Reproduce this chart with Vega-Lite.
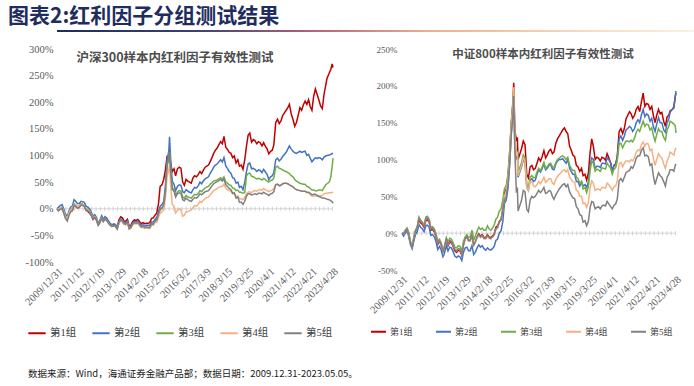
{
  "$schema": "https://vega.github.io/schema/vega-lite/v6.json",
  "background": "white",
  "padding": {"left": 8, "right": 4, "top": 6, "bottom": 4},
  "config": {"view": {"stroke": null}, "font": "Liberation Serif"},
  "title": {"text": "图表2:红利因子分组测试结果", "anchor": "start", "font": "Noto Sans CJK SC", "fontSize": 21, "fontWeight": "bold", "color": "#1F2D5E", "offset": 3},
  "datasets": {
    "hs": [
      {"d":"2009-12-31","1":0,"2":0,"3":0,"4":0,"5":0},
      {"d":"2010-01-28","1":-3,"2":3,"3":-2,"4":-2,"5":-4},
      {"d":"2010-02-26","1":0,"2":6,"3":1,"4":1,"5":-1},
      {"d":"2010-03-31","1":2,"2":8,"3":3,"4":2,"5":1},
      {"d":"2010-04-28","1":-6,"2":0,"3":-5,"4":-5,"5":-8},
      {"d":"2010-05-28","1":-15,"2":-10,"3":-14,"4":-14,"5":-18},
      {"d":"2010-06-30","1":-20,"2":-14,"3":-19,"4":-19,"5":-23},
      {"d":"2010-07-28","1":-10,"2":-5,"3":-9,"4":-9,"5":-13},
      {"d":"2010-08-27","1":-3,"2":3,"3":-2,"4":-2,"5":-6},
      {"d":"2010-09-28","1":-2,"2":5,"3":0,"4":0,"5":-4},
      {"d":"2010-10-28","1":8,"2":17,"3":10,"4":9,"5":7},
      {"d":"2010-11-26","1":5,"2":14,"3":8,"4":7,"5":4},
      {"d":"2010-12-28","1":2,"2":10,"3":4,"4":4,"5":1},
      {"d":"2011-01-28","1":3,"2":10,"3":5,"4":4,"5":2},
      {"d":"2011-02-28","1":9,"2":14,"3":9,"4":8,"5":7},
      {"d":"2011-03-28","1":8,"2":13,"3":8,"4":7,"5":6},
      {"d":"2011-04-28","1":5,"2":12,"3":6,"4":5,"5":5},
      {"d":"2011-05-27","1":-3,"2":5,"3":0,"4":-1,"5":-2},
      {"d":"2011-06-28","1":-5,"2":3,"3":-2,"4":-3,"5":-4},
      {"d":"2011-07-28","1":-8,"2":0,"3":-4,"4":-5,"5":-6},
      {"d":"2011-08-26","1":-12,"2":-6,"3":-9,"4":-10,"5":-11},
      {"d":"2011-09-28","1":-20,"2":-14,"3":-17,"4":-18,"5":-19},
      {"d":"2011-10-28","1":-17,"2":-11,"3":-14,"4":-15,"5":-16},
      {"d":"2011-11-28","1":-21,"2":-16,"3":-19,"4":-20,"5":-21},
      {"d":"2011-12-28","1":-30,"2":-27,"3":-30,"4":-31,"5":-31},
      {"d":"2012-01-19","1":-26,"2":-24,"3":-27,"4":-28,"5":-28},
      {"d":"2012-02-28","1":-16,"2":-13,"3":-17,"4":-18,"5":-18},
      {"d":"2012-03-28","1":-22,"2":-20,"3":-24,"4":-24,"5":-24},
      {"d":"2012-04-27","1":-17,"2":-15,"3":-19,"4":-19,"5":-19},
      {"d":"2012-05-28","1":-20,"2":-18,"3":-22,"4":-22,"5":-22},
      {"d":"2012-06-28","1":-25,"2":-23,"3":-27,"4":-27,"5":-27},
      {"d":"2012-07-27","1":-29,"2":-28,"3":-31,"4":-31,"5":-31},
      {"d":"2012-08-28","1":-31,"2":-30,"3":-33,"4":-33,"5":-33},
      {"d":"2012-09-28","1":-29,"2":-29,"3":-32,"4":-32,"5":-32},
      {"d":"2012-10-26","1":-30,"2":-30,"3":-33,"4":-33,"5":-33},
      {"d":"2012-11-28","1":-35,"2":-35,"3":-38,"4":-38,"5":-38},
      {"d":"2012-12-28","1":-21,"2":-24,"3":-27,"4":-27,"5":-26},
      {"d":"2013-01-29","1":-15,"2":-19,"3":-22,"4":-22,"5":-21},
      {"d":"2013-02-28","1":-17,"2":-21,"3":-24,"4":-24,"5":-23},
      {"d":"2013-03-28","1":-23,"2":-26,"3":-29,"4":-29,"5":-28},
      {"d":"2013-04-26","1":-24,"2":-27,"3":-30,"4":-30,"5":-29},
      {"d":"2013-05-28","1":-20,"2":-23,"3":-26,"4":-26,"5":-25},
      {"d":"2013-06-28","1":-33,"2":-35,"3":-38,"4":-38,"5":-37},
      {"d":"2013-07-26","1":-31,"2":-33,"3":-36,"4":-36,"5":-35},
      {"d":"2013-08-28","1":-24,"2":-27,"3":-30,"4":-30,"5":-29},
      {"d":"2013-09-27","1":-21,"2":-24,"3":-27,"4":-27,"5":-26},
      {"d":"2013-10-28","1":-22,"2":-25,"3":-28,"4":-28,"5":-27},
      {"d":"2013-11-28","1":-20,"2":-24,"3":-27,"4":-27,"5":-26},
      {"d":"2013-12-27","1":-24,"2":-27,"3":-31,"4":-31,"5":-30},
      {"d":"2014-01-28","1":-28,"2":-31,"3":-35,"4":-35,"5":-34},
      {"d":"2014-02-28","1":-26,"2":-30,"3":-34,"4":-35,"5":-33},
      {"d":"2014-03-28","1":-28,"2":-32,"3":-36,"4":-37,"5":-35},
      {"d":"2014-04-28","1":-27,"2":-31,"3":-35,"4":-36,"5":-34},
      {"d":"2014-05-28","1":-27,"2":-31,"3":-35,"4":-37,"5":-35},
      {"d":"2014-06-27","1":-26,"2":-31,"3":-35,"4":-37,"5":-35},
      {"d":"2014-07-28","1":-18,"2":-25,"3":-29,"4":-31,"5":-28},
      {"d":"2014-08-28","1":-17,"2":-25,"3":-29,"4":-31,"5":-29},
      {"d":"2014-09-26","1":-12,"2":-20,"3":-24,"4":-26,"5":-23},
      {"d":"2014-10-28","1":-8,"2":-16,"3":-22,"4":-25,"5":-21},
      {"d":"2014-11-28","1":10,"2":-5,"3":-12,"4":-16,"5":-9},
      {"d":"2014-12-26","1":42,"2":5,"3":-2,"4":-8,"5":0},
      {"d":"2015-01-28","1":45,"2":8,"3":0,"4":-6,"5":2},
      {"d":"2015-02-27","1":55,"2":14,"3":6,"4":-2,"5":7},
      {"d":"2015-03-27","1":72,"2":40,"3":30,"4":18,"5":30},
      {"d":"2015-04-28","1":98,"2":92,"3":80,"4":62,"5":85},
      {"d":"2015-05-28","1":96,"2":108,"3":92,"4":72,"5":95},
      {"d":"2015-06-10","1":104,"2":135,"3":106,"4":82,"5":106},
      {"d":"2015-06-30","1":85,"2":92,"3":72,"4":45,"5":70},
      {"d":"2015-07-28","1":70,"2":52,"3":40,"4":8,"5":36},
      {"d":"2015-08-28","1":75,"2":46,"3":36,"4":5,"5":33},
      {"d":"2015-09-25","1":62,"2":34,"3":25,"4":-8,"5":22},
      {"d":"2015-10-28","1":75,"2":42,"3":32,"4":-3,"5":28},
      {"d":"2015-11-27","1":78,"2":45,"3":34,"4":0,"5":30},
      {"d":"2015-12-28","1":76,"2":44,"3":33,"4":-2,"5":29},
      {"d":"2016-01-28","1":50,"2":32,"3":22,"4":-14,"5":17},
      {"d":"2016-02-26","1":44,"2":30,"3":20,"4":-12,"5":15},
      {"d":"2016-03-28","1":55,"2":36,"3":25,"4":-6,"5":20},
      {"d":"2016-04-28","1":52,"2":33,"3":22,"4":-5,"5":17},
      {"d":"2016-05-27","1":50,"2":31,"3":21,"4":-4,"5":15},
      {"d":"2016-06-28","1":48,"2":30,"3":20,"4":-2,"5":14},
      {"d":"2016-07-28","1":58,"2":36,"3":24,"4":2,"5":18},
      {"d":"2016-08-26","1":62,"2":40,"3":27,"4":6,"5":21},
      {"d":"2016-09-28","1":60,"2":39,"3":26,"4":5,"5":20},
      {"d":"2016-10-28","1":64,"2":43,"3":29,"4":8,"5":23},
      {"d":"2016-11-28","1":70,"2":50,"3":34,"4":14,"5":28},
      {"d":"2016-12-28","1":66,"2":47,"3":32,"4":12,"5":26},
      {"d":"2017-01-26","1":72,"2":52,"3":36,"4":16,"5":29},
      {"d":"2017-02-28","1":78,"2":56,"3":39,"4":19,"5":32},
      {"d":"2017-03-28","1":80,"2":58,"3":41,"4":21,"5":33},
      {"d":"2017-04-28","1":82,"2":60,"3":42,"4":22,"5":34},
      {"d":"2017-05-26","1":88,"2":66,"3":46,"4":26,"5":38},
      {"d":"2017-06-28","1":96,"2":72,"3":49,"4":30,"5":43},
      {"d":"2017-07-28","1":104,"2":78,"3":52,"4":34,"5":47},
      {"d":"2017-08-28","1":110,"2":82,"3":53,"4":36,"5":49},
      {"d":"2017-09-28","1":114,"2":84,"3":54,"4":38,"5":51},
      {"d":"2017-10-27","1":120,"2":88,"3":56,"4":40,"5":53},
      {"d":"2017-11-28","1":126,"2":92,"3":58,"4":42,"5":55},
      {"d":"2017-12-28","1":122,"2":88,"3":56,"4":42,"5":52},
      {"d":"2018-01-26","1":136,"2":96,"3":60,"4":46,"5":56},
      {"d":"2018-02-28","1":115,"2":80,"3":50,"4":38,"5":45},
      {"d":"2018-03-28","1":112,"2":76,"3":48,"4":36,"5":42},
      {"d":"2018-04-27","1":106,"2":70,"3":45,"4":34,"5":38},
      {"d":"2018-05-28","1":104,"2":67,"3":44,"4":33,"5":36},
      {"d":"2018-06-28","1":96,"2":58,"3":39,"4":28,"5":29},
      {"d":"2018-07-27","1":99,"2":57,"3":38,"4":28,"5":30},
      {"d":"2018-08-28","1":86,"2":48,"3":34,"4":23,"5":20},
      {"d":"2018-09-28","1":92,"2":50,"3":35,"4":24,"5":22},
      {"d":"2018-10-26","1":80,"2":40,"3":31,"4":19,"5":12},
      {"d":"2018-11-28","1":82,"2":42,"3":31,"4":19,"5":12},
      {"d":"2018-12-28","1":74,"2":36,"3":29,"4":17,"5":8},
      {"d":"2019-01-28","1":92,"2":50,"3":30,"4":22,"5":14},
      {"d":"2019-02-28","1":118,"2":70,"3":62,"4":28,"5":24},
      {"d":"2019-03-28","1":138,"2":84,"3":66,"4":31,"5":28},
      {"d":"2019-04-26","1":142,"2":86,"3":67,"4":32,"5":28},
      {"d":"2019-05-28","1":125,"2":75,"3":61,"4":30,"5":26},
      {"d":"2019-06-28","1":130,"2":76,"3":60,"4":33,"5":27},
      {"d":"2019-07-26","1":128,"2":74,"3":58,"4":34,"5":28},
      {"d":"2019-08-28","1":122,"2":70,"3":56,"4":33,"5":27},
      {"d":"2019-09-27","1":126,"2":73,"3":57,"4":35,"5":29},
      {"d":"2019-10-28","1":124,"2":72,"3":56,"4":36,"5":29},
      {"d":"2019-11-28","1":118,"2":68,"3":54,"4":35,"5":28},
      {"d":"2019-12-27","1":124,"2":74,"3":57,"4":38,"5":31},
      {"d":"2020-01-23","1":118,"2":70,"3":55,"4":36,"5":29},
      {"d":"2020-02-28","1":112,"2":64,"3":52,"4":34,"5":27},
      {"d":"2020-03-27","1":103,"2":55,"3":50,"4":32,"5":25},
      {"d":"2020-04-28","1":108,"2":60,"3":53,"4":34,"5":28},
      {"d":"2020-05-28","1":110,"2":62,"3":54,"4":35,"5":29},
      {"d":"2020-06-24","1":120,"2":68,"3":58,"4":38,"5":32},
      {"d":"2020-07-28","1":162,"2":92,"3":78,"4":46,"5":45},
      {"d":"2020-08-28","1":168,"2":95,"3":80,"4":47,"5":46},
      {"d":"2020-09-28","1":160,"2":90,"3":76,"4":44,"5":43},
      {"d":"2020-10-28","1":165,"2":93,"3":75,"4":45,"5":44},
      {"d":"2020-11-27","1":175,"2":98,"3":73,"4":47,"5":47},
      {"d":"2020-12-28","1":180,"2":102,"3":71,"4":48,"5":48},
      {"d":"2021-01-28","1":185,"2":106,"3":70,"4":48,"5":48},
      {"d":"2021-02-26","1":190,"2":112,"3":68,"4":47,"5":47},
      {"d":"2021-03-26","1":196,"2":118,"3":66,"4":45,"5":45},
      {"d":"2021-04-28","1":178,"2":112,"3":62,"4":43,"5":43},
      {"d":"2021-05-28","1":168,"2":108,"3":60,"4":41,"5":41},
      {"d":"2021-06-28","1":155,"2":105,"3":55,"4":38,"5":38},
      {"d":"2021-07-28","1":162,"2":104,"3":52,"4":36,"5":36},
      {"d":"2021-08-27","1":175,"2":106,"3":50,"4":35,"5":35},
      {"d":"2021-09-28","1":190,"2":108,"3":48,"4":34,"5":34},
      {"d":"2021-10-28","1":185,"2":106,"3":47,"4":33,"5":33},
      {"d":"2021-11-26","1":195,"2":107,"3":46,"4":33,"5":33},
      {"d":"2021-12-28","1":202,"2":108,"3":46,"4":33,"5":33},
      {"d":"2022-01-28","1":196,"2":100,"3":42,"4":30,"5":31},
      {"d":"2022-02-28","1":205,"2":102,"3":41,"4":30,"5":31},
      {"d":"2022-03-28","1":192,"2":95,"3":38,"4":27,"5":29},
      {"d":"2022-04-28","1":185,"2":88,"3":35,"4":24,"5":26},
      {"d":"2022-05-27","1":210,"2":92,"3":35,"4":24,"5":27},
      {"d":"2022-06-28","1":225,"2":96,"3":34,"4":24,"5":27},
      {"d":"2022-07-28","1":215,"2":94,"3":34,"4":24,"5":25},
      {"d":"2022-08-26","1":205,"2":96,"3":35,"4":25,"5":23},
      {"d":"2022-09-28","1":193,"2":95,"3":35,"4":25,"5":22},
      {"d":"2022-10-28","1":188,"2":92,"3":34,"4":25,"5":20},
      {"d":"2022-11-28","1":215,"2":97,"3":40,"4":28,"5":20},
      {"d":"2022-12-28","1":232,"2":99,"3":45,"4":29,"5":19},
      {"d":"2023-01-20","1":245,"2":100,"3":47,"4":29,"5":18},
      {"d":"2023-02-28","1":255,"2":101,"3":50,"4":30,"5":17},
      {"d":"2023-03-28","1":262,"2":102,"3":60,"4":30,"5":15},
      {"d":"2023-04-21","1":272,"2":104,"3":80,"4":31,"5":13},
      {"d":"2023-05-05","1":265,"2":103,"3":95,"4":30,"5":10}
    ],
    "zz": [
      {"d":"2009-12-31","1":0,"2":0,"3":0,"4":0,"5":0},
      {"d":"2010-01-28","1":-2,"2":-4,"3":0,"4":-1,"5":-1},
      {"d":"2010-02-26","1":2,"2":0,"3":4,"4":3,"5":3},
      {"d":"2010-03-31","1":5,"2":3,"3":7,"4":6,"5":6},
      {"d":"2010-04-28","1":-1,"2":-4,"3":1,"4":0,"5":0},
      {"d":"2010-05-28","1":-12,"2":-15,"3":-11,"4":-12,"5":-12},
      {"d":"2010-06-30","1":-18,"2":-21,"3":-17,"4":-18,"5":-19},
      {"d":"2010-07-28","1":-8,"2":-11,"3":-6,"4":-7,"5":-8},
      {"d":"2010-08-27","1":2,"2":-2,"3":4,"4":3,"5":3},
      {"d":"2010-09-28","1":6,"2":2,"3":9,"4":8,"5":8},
      {"d":"2010-10-28","1":18,"2":12,"3":22,"4":20,"5":20},
      {"d":"2010-11-26","1":14,"2":8,"3":18,"4":16,"5":17},
      {"d":"2010-12-28","1":12,"2":6,"3":15,"4":14,"5":14},
      {"d":"2011-01-28","1":8,"2":2,"3":11,"4":10,"5":10},
      {"d":"2011-02-28","1":17,"2":10,"3":22,"4":20,"5":20},
      {"d":"2011-03-28","1":18,"2":11,"3":23,"4":21,"5":21},
      {"d":"2011-04-28","1":15,"2":8,"3":19,"4":18,"5":18},
      {"d":"2011-05-27","1":4,"2":-3,"3":8,"4":6,"5":6},
      {"d":"2011-06-28","1":5,"2":-2,"3":9,"4":7,"5":7},
      {"d":"2011-07-28","1":2,"2":-5,"3":6,"4":4,"5":4},
      {"d":"2011-08-26","1":-4,"2":-11,"3":0,"4":-2,"5":-2},
      {"d":"2011-09-28","1":-15,"2":-22,"3":-11,"4":-13,"5":-13},
      {"d":"2011-10-28","1":-11,"2":-18,"3":-8,"4":-10,"5":-10},
      {"d":"2011-11-28","1":-16,"2":-23,"3":-13,"4":-15,"5":-15},
      {"d":"2011-12-28","1":-26,"2":-32,"3":-23,"4":-25,"5":-25},
      {"d":"2012-01-19","1":-22,"2":-29,"3":-19,"4":-21,"5":-21},
      {"d":"2012-02-28","1":-10,"2":-17,"3":-6,"4":-9,"5":-8},
      {"d":"2012-03-28","1":-17,"2":-24,"3":-12,"4":-15,"5":-15},
      {"d":"2012-04-27","1":-12,"2":-19,"3":-7,"4":-10,"5":-10},
      {"d":"2012-05-28","1":-13,"2":-20,"3":-8,"4":-11,"5":-11},
      {"d":"2012-06-28","1":-18,"2":-25,"3":-13,"4":-16,"5":-16},
      {"d":"2012-07-27","1":-24,"2":-31,"3":-19,"4":-22,"5":-22},
      {"d":"2012-08-28","1":-26,"2":-33,"3":-20,"4":-24,"5":-24},
      {"d":"2012-09-28","1":-23,"2":-31,"3":-17,"4":-21,"5":-21},
      {"d":"2012-10-26","1":-24,"2":-32,"3":-18,"4":-22,"5":-22},
      {"d":"2012-11-28","1":-30,"2":-37,"3":-24,"4":-28,"5":-28},
      {"d":"2012-12-28","1":-16,"2":-26,"3":-11,"4":-15,"5":-15},
      {"d":"2013-01-29","1":-6,"2":-20,"3":-5,"4":-8,"5":-7},
      {"d":"2013-02-28","1":-4,"2":-19,"3":-2,"4":-6,"5":-5},
      {"d":"2013-03-28","1":-10,"2":-24,"3":-6,"4":-11,"5":-10},
      {"d":"2013-04-26","1":-10,"2":-24,"3":-5,"4":-11,"5":-10},
      {"d":"2013-05-28","1":-2,"2":-17,"3":4,"4":-4,"5":-3},
      {"d":"2013-06-28","1":-16,"2":-29,"3":-9,"4":-17,"5":-16},
      {"d":"2013-07-26","1":-12,"2":-26,"3":-4,"4":-13,"5":-12},
      {"d":"2013-08-28","1":-5,"2":-20,"3":3,"4":-6,"5":-5},
      {"d":"2013-09-27","1":-1,"2":-16,"3":8,"4":-3,"5":-2},
      {"d":"2013-10-28","1":-4,"2":-19,"3":5,"4":-6,"5":-5},
      {"d":"2013-11-28","1":-2,"2":-17,"3":7,"4":-4,"5":-3},
      {"d":"2013-12-27","1":-6,"2":-21,"3":4,"4":-8,"5":-7},
      {"d":"2014-01-28","1":-6,"2":-23,"3":4,"4":-8,"5":-7},
      {"d":"2014-02-28","1":-2,"2":-20,"3":10,"4":-4,"5":-3},
      {"d":"2014-03-28","1":-5,"2":-22,"3":6,"4":-7,"5":-6},
      {"d":"2014-04-28","1":-6,"2":-23,"3":4,"4":-8,"5":-7},
      {"d":"2014-05-28","1":-4,"2":-21,"3":7,"4":-6,"5":-5},
      {"d":"2014-06-27","1":-1,"2":-18,"3":11,"4":-3,"5":-2},
      {"d":"2014-07-28","1":8,"2":-10,"3":19,"4":5,"5":6},
      {"d":"2014-08-28","1":10,"2":-8,"3":22,"4":7,"5":8},
      {"d":"2014-09-26","1":16,"2":0,"3":30,"4":15,"5":15},
      {"d":"2014-10-28","1":19,"2":3,"3":33,"4":18,"5":18},
      {"d":"2014-11-28","1":33,"2":16,"3":45,"4":31,"5":30},
      {"d":"2014-12-26","1":55,"2":40,"3":60,"4":50,"5":45},
      {"d":"2015-01-28","1":60,"2":45,"3":65,"4":57,"5":50},
      {"d":"2015-02-27","1":75,"2":60,"3":80,"4":72,"5":65},
      {"d":"2015-03-27","1":105,"2":90,"3":108,"4":100,"5":92},
      {"d":"2015-04-28","1":150,"2":135,"3":150,"4":145,"5":135},
      {"d":"2015-05-28","1":180,"2":162,"3":176,"4":175,"5":162},
      {"d":"2015-06-10","1":204,"2":185,"3":196,"4":198,"5":186},
      {"d":"2015-06-30","1":140,"2":120,"3":128,"4":130,"5":110},
      {"d":"2015-07-28","1":125,"2":100,"3":108,"4":105,"5":55},
      {"d":"2015-08-14","1":130,"2":106,"3":112,"4":110,"5":62},
      {"d":"2015-08-26","1":100,"2":76,"3":82,"4":78,"5":30},
      {"d":"2015-10-28","1":115,"2":90,"3":96,"4":92,"5":45},
      {"d":"2015-11-27","1":125,"2":100,"3":106,"4":102,"5":58},
      {"d":"2015-12-28","1":120,"2":96,"3":102,"4":97,"5":56},
      {"d":"2016-01-28","1":80,"2":62,"3":66,"4":62,"5":32},
      {"d":"2016-02-26","1":75,"2":58,"3":62,"4":58,"5":29},
      {"d":"2016-03-28","1":90,"2":72,"3":76,"4":70,"5":45},
      {"d":"2016-04-28","1":92,"2":74,"3":78,"4":70,"5":50},
      {"d":"2016-05-27","1":86,"2":70,"3":75,"4":64,"5":48},
      {"d":"2016-06-28","1":88,"2":72,"3":76,"4":63,"5":50},
      {"d":"2016-07-28","1":95,"2":80,"3":83,"4":66,"5":54},
      {"d":"2016-08-26","1":102,"2":86,"3":88,"4":70,"5":58},
      {"d":"2016-09-28","1":98,"2":83,"3":85,"4":67,"5":55},
      {"d":"2016-10-28","1":104,"2":88,"3":90,"4":71,"5":58},
      {"d":"2016-11-28","1":112,"2":94,"3":96,"4":76,"5":62},
      {"d":"2016-12-28","1":102,"2":86,"3":88,"4":69,"5":54},
      {"d":"2017-01-26","1":106,"2":88,"3":90,"4":71,"5":55},
      {"d":"2017-02-28","1":112,"2":92,"3":94,"4":74,"5":58},
      {"d":"2017-03-28","1":114,"2":93,"3":95,"4":74,"5":57},
      {"d":"2017-04-28","1":108,"2":87,"3":90,"4":68,"5":50},
      {"d":"2017-05-26","1":110,"2":86,"3":89,"4":66,"5":46},
      {"d":"2017-06-28","1":122,"2":94,"3":96,"4":73,"5":52},
      {"d":"2017-07-28","1":128,"2":98,"3":100,"4":77,"5":56},
      {"d":"2017-08-28","1":132,"2":100,"3":102,"4":80,"5":60},
      {"d":"2017-09-28","1":136,"2":100,"3":104,"4":82,"5":63},
      {"d":"2017-10-27","1":140,"2":101,"3":105,"4":85,"5":66},
      {"d":"2017-11-28","1":143,"2":98,"3":103,"4":86,"5":67},
      {"d":"2017-12-28","1":138,"2":95,"3":100,"4":83,"5":63},
      {"d":"2018-01-26","1":135,"2":100,"3":103,"4":86,"5":66},
      {"d":"2018-02-28","1":118,"2":88,"3":92,"4":76,"5":56},
      {"d":"2018-03-28","1":113,"2":84,"3":88,"4":73,"5":52},
      {"d":"2018-04-27","1":106,"2":80,"3":85,"4":70,"5":48},
      {"d":"2018-05-28","1":104,"2":80,"3":85,"4":69,"5":47},
      {"d":"2018-06-28","1":92,"2":70,"3":76,"4":58,"5":36},
      {"d":"2018-07-27","1":90,"2":70,"3":74,"4":57,"5":33},
      {"d":"2018-08-28","1":84,"2":64,"3":68,"4":50,"5":25},
      {"d":"2018-09-28","1":88,"2":70,"3":70,"4":50,"5":24},
      {"d":"2018-10-26","1":78,"2":64,"3":60,"4":40,"5":15},
      {"d":"2018-11-28","1":80,"2":66,"3":62,"4":41,"5":17},
      {"d":"2018-12-28","1":72,"2":62,"3":55,"4":35,"5":10},
      {"d":"2019-01-28","1":82,"2":70,"3":63,"4":42,"5":16},
      {"d":"2019-02-28","1":110,"2":92,"3":85,"4":62,"5":35},
      {"d":"2019-03-28","1":128,"2":102,"3":98,"4":71,"5":43},
      {"d":"2019-04-26","1":118,"2":100,"3":95,"4":68,"5":42},
      {"d":"2019-05-28","1":100,"2":88,"3":84,"4":58,"5":33},
      {"d":"2019-06-28","1":103,"2":91,"3":87,"4":60,"5":35},
      {"d":"2019-07-26","1":102,"2":91,"3":86,"4":60,"5":36},
      {"d":"2019-08-28","1":98,"2":89,"3":84,"4":58,"5":33},
      {"d":"2019-09-27","1":103,"2":95,"3":89,"4":62,"5":37},
      {"d":"2019-10-28","1":102,"2":95,"3":88,"4":62,"5":38},
      {"d":"2019-11-28","1":99,"2":94,"3":87,"4":61,"5":37},
      {"d":"2019-12-27","1":108,"2":102,"3":95,"4":68,"5":43},
      {"d":"2020-01-23","1":103,"2":100,"3":92,"4":66,"5":40},
      {"d":"2020-02-28","1":95,"2":96,"3":88,"4":62,"5":36},
      {"d":"2020-03-27","1":84,"2":85,"3":80,"4":58,"5":33},
      {"d":"2020-04-28","1":92,"2":92,"3":87,"4":63,"5":38},
      {"d":"2020-05-28","1":94,"2":93,"3":89,"4":64,"5":40},
      {"d":"2020-06-24","1":104,"2":103,"3":98,"4":71,"5":46},
      {"d":"2020-07-28","1":138,"2":128,"3":121,"4":94,"5":71},
      {"d":"2020-08-28","1":142,"2":132,"3":122,"4":96,"5":74},
      {"d":"2020-09-28","1":135,"2":126,"3":116,"4":90,"5":70},
      {"d":"2020-10-28","1":142,"2":132,"3":121,"4":95,"5":76},
      {"d":"2020-11-27","1":155,"2":140,"3":125,"4":98,"5":82},
      {"d":"2020-12-28","1":160,"2":142,"3":125,"4":98,"5":84},
      {"d":"2021-01-28","1":165,"2":145,"3":124,"4":97,"5":85},
      {"d":"2021-02-26","1":162,"2":143,"3":126,"4":100,"5":90},
      {"d":"2021-03-26","1":156,"2":138,"3":124,"4":98,"5":88},
      {"d":"2021-04-28","1":160,"2":142,"3":129,"4":103,"5":94},
      {"d":"2021-05-28","1":168,"2":150,"3":137,"4":110,"5":102},
      {"d":"2021-06-28","1":172,"2":154,"3":141,"4":113,"5":105},
      {"d":"2021-07-28","1":165,"2":150,"3":138,"4":112,"5":105},
      {"d":"2021-08-27","1":178,"2":160,"3":145,"4":120,"5":112},
      {"d":"2021-09-28","1":190,"2":168,"3":152,"4":124,"5":116},
      {"d":"2021-10-28","1":172,"2":158,"3":145,"4":118,"5":105},
      {"d":"2021-11-26","1":176,"2":162,"3":148,"4":122,"5":106},
      {"d":"2021-12-28","1":175,"2":160,"3":147,"4":121,"5":104},
      {"d":"2022-01-28","1":168,"2":152,"3":140,"4":112,"5":92},
      {"d":"2022-02-28","1":172,"2":156,"3":143,"4":114,"5":94},
      {"d":"2022-03-28","1":160,"2":145,"3":133,"4":102,"5":78},
      {"d":"2022-04-28","1":150,"2":138,"3":125,"4":92,"5":66},
      {"d":"2022-05-27","1":160,"2":148,"3":134,"4":100,"5":74},
      {"d":"2022-06-28","1":168,"2":157,"3":142,"4":108,"5":82},
      {"d":"2022-07-28","1":162,"2":150,"3":138,"4":104,"5":78},
      {"d":"2022-08-26","1":164,"2":150,"3":138,"4":102,"5":76},
      {"d":"2022-09-28","1":152,"2":140,"3":130,"4":94,"5":70},
      {"d":"2022-10-28","1":145,"2":137,"3":126,"4":88,"5":64},
      {"d":"2022-11-28","1":158,"2":150,"3":140,"4":98,"5":76},
      {"d":"2022-12-28","1":160,"2":155,"3":145,"4":103,"5":80},
      {"d":"2023-01-20","1":166,"2":164,"3":152,"4":110,"5":86},
      {"d":"2023-02-28","1":168,"2":168,"3":150,"4":108,"5":86},
      {"d":"2023-03-28","1":170,"2":172,"3":148,"4":106,"5":84},
      {"d":"2023-04-21","1":185,"2":185,"3":146,"4":114,"5":92},
      {"d":"2023-05-05","1":190,"2":193,"3":136,"4":116,"5":94}
    ]
  },
  "spacing": 12,
  "vconcat": [
    {
      "data": {"values": [{"s": 0, "e": 1}]},
      "width": 680,
      "height": 2,
      "mark": {"type": "rect", "color": {"gradient": "linear", "x1": 0, "x2": 1, "y1": 0, "y2": 0, "stops": [{"offset": 0, "color": "#1F2D5E"}, {"offset": 0.2, "color": "#3B3F72"}, {"offset": 0.38, "color": "#B8637A"}, {"offset": 0.55, "color": "#EDB08E"}, {"offset": 0.8, "color": "#F8DFC4"}, {"offset": 1, "color": "#FEF7EF"}]}},
      "encoding": {
        "x": {"field": "s", "type": "quantitative", "scale": {"domain": [0, 1]}, "axis": null},
        "x2": {"field": "e"}
      }
    },
    {
      "spacing": 27,
      "title": {"text": "数据来源：Wind，海通证券金融产品部；数据日期：2009.12.31-2023.05.05。", "orient": "bottom", "anchor": "start", "font": "Noto Sans CJK SC", "fontSize": 9.5, "fontWeight": "normal", "color": "#222222", "offset": 30, "dx": 20},
      "resolve": {"legend": {"color": "independent"}, "scale": {"y": "independent", "color": "independent", "x": "independent"}},
      "hconcat": [
        {
          "width": 276,
          "height": 213,
          "title": {"text": "沪深300样本内红利因子有效性测试", "frame": "group", "anchor": "middle", "dx": -20, "offset": -20, "font": "Noto Sans CJK SC", "fontSize": 12.5, "fontWeight": "bold", "color": "#4D4D4D"},
          "layer": [
            {
              "data": {"values": [{}]},
              "mark": {"type": "rule", "color": "#D9D9D9", "strokeWidth": 1},
              "encoding": {"y": {"datum": 0, "type": "quantitative", "scale": {"domain": [-100, 300]}, "title": null, "axis": {"values": [-100, -50, 0, 50, 100, 150, 200, 250, 300], "labelExpr": "datum.value + '%'", "domain": false, "ticks": false, "grid": false, "labelFont": "Liberation Serif", "labelFontSize": 10.5, "labelColor": "#595959", "labelPadding": 4, "minExtent": 49}}}
            },
            {
              "data": {"values": [{}]},
              "mark": {"type": "rule", "color": "#D0D0D0", "strokeWidth": 4, "strokeDash": [1, 3.3]},
              "encoding": {"y": {"datum": 0, "type": "quantitative", "scale": {"domain": [-100, 300]}, "title": null, "axis": {"values": [-100, -50, 0, 50, 100, 150, 200, 250, 300], "labelExpr": "datum.value + '%'", "domain": false, "ticks": false, "grid": false, "labelFont": "Liberation Serif", "labelFontSize": 10.5, "labelColor": "#595959", "labelPadding": 4, "minExtent": 49}}}
            },
            {
              "data": {"name": "hs"},
              "transform": [{"fold": ["1", "2", "3", "4", "5"], "as": ["g", "v"]}],
              "mark": {"type": "line", "strokeWidth": 1.5},
              "encoding": {
                "x": {"field": "d", "type": "temporal", "title": null,
                  "scale": {"type": "utc", "domain": [{"year": 2009, "month": 12, "date": 31, "utc": true}, {"year": 2023, "month": 5, "date": 5, "utc": true}]},
                  "axis": {"values": [{"year": 2009, "month": 12, "date": 31, "utc": true}, {"year": 2011, "month": 1, "date": 12, "utc": true}, {"year": 2012, "month": 1, "date": 19, "utc": true}, {"year": 2013, "month": 1, "date": 29, "utc": true}, {"year": 2014, "month": 2, "date": 18, "utc": true}, {"year": 2015, "month": 2, "date": 25, "utc": true}, {"year": 2016, "month": 3, "date": 2, "utc": true}, {"year": 2017, "month": 3, "date": 9, "utc": true}, {"year": 2018, "month": 3, "date": 15, "utc": true}, {"year": 2019, "month": 3, "date": 25, "utc": true}, {"year": 2020, "month": 4, "date": 1, "utc": true}, {"year": 2021, "month": 4, "date": 12, "utc": true}, {"year": 2022, "month": 4, "date": 21, "utc": true}, {"year": 2023, "month": 4, "date": 28, "utc": true}],
                    "format": "%Y/%-m/%-d", "labelAngle": -45, "labelOverlap": false, "domain": false, "ticks": false, "grid": false, "labelFont": "Liberation Serif", "labelFontSize": 10.5, "labelColor": "#595959", "labelPadding": 4}},
                "y": {"field": "v", "type": "quantitative", "scale": {"domain": [-100, 300]}, "title": null, "axis": {"values": [-100, -50, 0, 50, 100, 150, 200, 250, 300], "labelExpr": "datum.value + '%'", "domain": false, "ticks": false, "grid": false, "labelFont": "Liberation Serif", "labelFontSize": 10.5, "labelColor": "#595959", "labelPadding": 4, "minExtent": 49}},
                "color": {"field": "g", "type": "nominal", "scale": {"domain": ["1", "2", "3", "4", "5"], "range": ["#C00000", "#4472C4", "#70AD47", "#F4B183", "#808080"]},
                  "legend": {"orient": "none", "legendX": -30, "legendY": 274, "direction": "horizontal", "title": null, "labelExpr": "'第' + datum.label + '组'", "symbolType": "stroke", "symbolSize": 300, "symbolStrokeWidth": 2, "labelFont": "Liberation Serif, Noto Sans CJK SC", "labelFontSize": 10.5, "labelColor": "#404040", "labelOffset": 3, "columnPadding": 11}}
              }
            }
          ]
        },
        {
          "width": 274,
          "height": 221,
          "title": {"text": "中证800样本内红利因子有效性测试", "frame": "group", "anchor": "middle", "dx": 4, "offset": -15, "font": "Noto Sans CJK SC", "fontSize": 11.5, "fontWeight": "bold", "color": "#4D4D4D"},
          "layer": [
            {
              "data": {"values": [{}]},
              "mark": {"type": "rule", "color": "#D9D9D9", "strokeWidth": 1},
              "encoding": {"y": {"datum": 0, "type": "quantitative", "scale": {"domain": [-50, 250]}, "title": null, "axis": {"values": [-50, 0, 50, 100, 150, 200, 250], "labelExpr": "datum.value + '%'", "domain": false, "ticks": false, "grid": false, "labelFont": "Liberation Serif", "labelFontSize": 9, "labelColor": "#595959", "labelPadding": 5}}}
            },
            {
              "data": {"values": [{}]},
              "mark": {"type": "rule", "color": "#D0D0D0", "strokeWidth": 4, "strokeDash": [1, 3.3]},
              "encoding": {"y": {"datum": 0, "type": "quantitative", "scale": {"domain": [-50, 250]}, "title": null, "axis": {"values": [-50, 0, 50, 100, 150, 200, 250], "labelExpr": "datum.value + '%'", "domain": false, "ticks": false, "grid": false, "labelFont": "Liberation Serif", "labelFontSize": 9, "labelColor": "#595959", "labelPadding": 5}}}
            },
            {
              "data": {"name": "zz"},
              "transform": [{"fold": ["1", "2", "3", "4", "5"], "as": ["g", "v"]}],
              "mark": {"type": "line", "strokeWidth": 1.5},
              "encoding": {
                "x": {"field": "d", "type": "temporal", "title": null,
                  "scale": {"type": "utc", "domain": [{"year": 2009, "month": 12, "date": 31, "utc": true}, {"year": 2023, "month": 5, "date": 5, "utc": true}]},
                  "axis": {"values": [{"year": 2009, "month": 12, "date": 31, "utc": true}, {"year": 2011, "month": 1, "date": 12, "utc": true}, {"year": 2012, "month": 1, "date": 19, "utc": true}, {"year": 2013, "month": 1, "date": 29, "utc": true}, {"year": 2014, "month": 2, "date": 18, "utc": true}, {"year": 2015, "month": 2, "date": 25, "utc": true}, {"year": 2016, "month": 3, "date": 2, "utc": true}, {"year": 2017, "month": 3, "date": 9, "utc": true}, {"year": 2018, "month": 3, "date": 15, "utc": true}, {"year": 2019, "month": 3, "date": 25, "utc": true}, {"year": 2020, "month": 4, "date": 1, "utc": true}, {"year": 2021, "month": 4, "date": 12, "utc": true}, {"year": 2022, "month": 4, "date": 21, "utc": true}, {"year": 2023, "month": 4, "date": 28, "utc": true}],
                    "format": "%Y/%-m/%-d", "labelAngle": -45, "labelOverlap": false, "domain": false, "ticks": false, "grid": false, "labelFont": "Liberation Serif", "labelFontSize": 10.5, "labelColor": "#595959", "labelPadding": 4}},
                "y": {"field": "v", "type": "quantitative", "scale": {"domain": [-50, 250]}, "title": null, "axis": {"values": [-50, 0, 50, 100, 150, 200, 250], "labelExpr": "datum.value + '%'", "domain": false, "ticks": false, "grid": false, "labelFont": "Liberation Serif", "labelFontSize": 9, "labelColor": "#595959", "labelPadding": 5}},
                "color": {"field": "g", "type": "nominal", "scale": {"domain": ["1", "2", "3", "4", "5"], "range": ["#C00000", "#4472C4", "#70AD47", "#F4B183", "#808080"]},
                  "legend": {"orient": "none", "legendX": -32, "legendY": 274, "direction": "horizontal", "title": null, "labelExpr": "'第' + datum.label + '组'", "symbolType": "stroke", "symbolSize": 225, "symbolStrokeWidth": 2, "labelFont": "Liberation Serif, Noto Sans CJK SC", "labelFontSize": 9, "labelColor": "#404040", "labelOffset": 3, "columnPadding": 19}}
              }
            }
          ]
        }
      ]
    }
  ]
}
